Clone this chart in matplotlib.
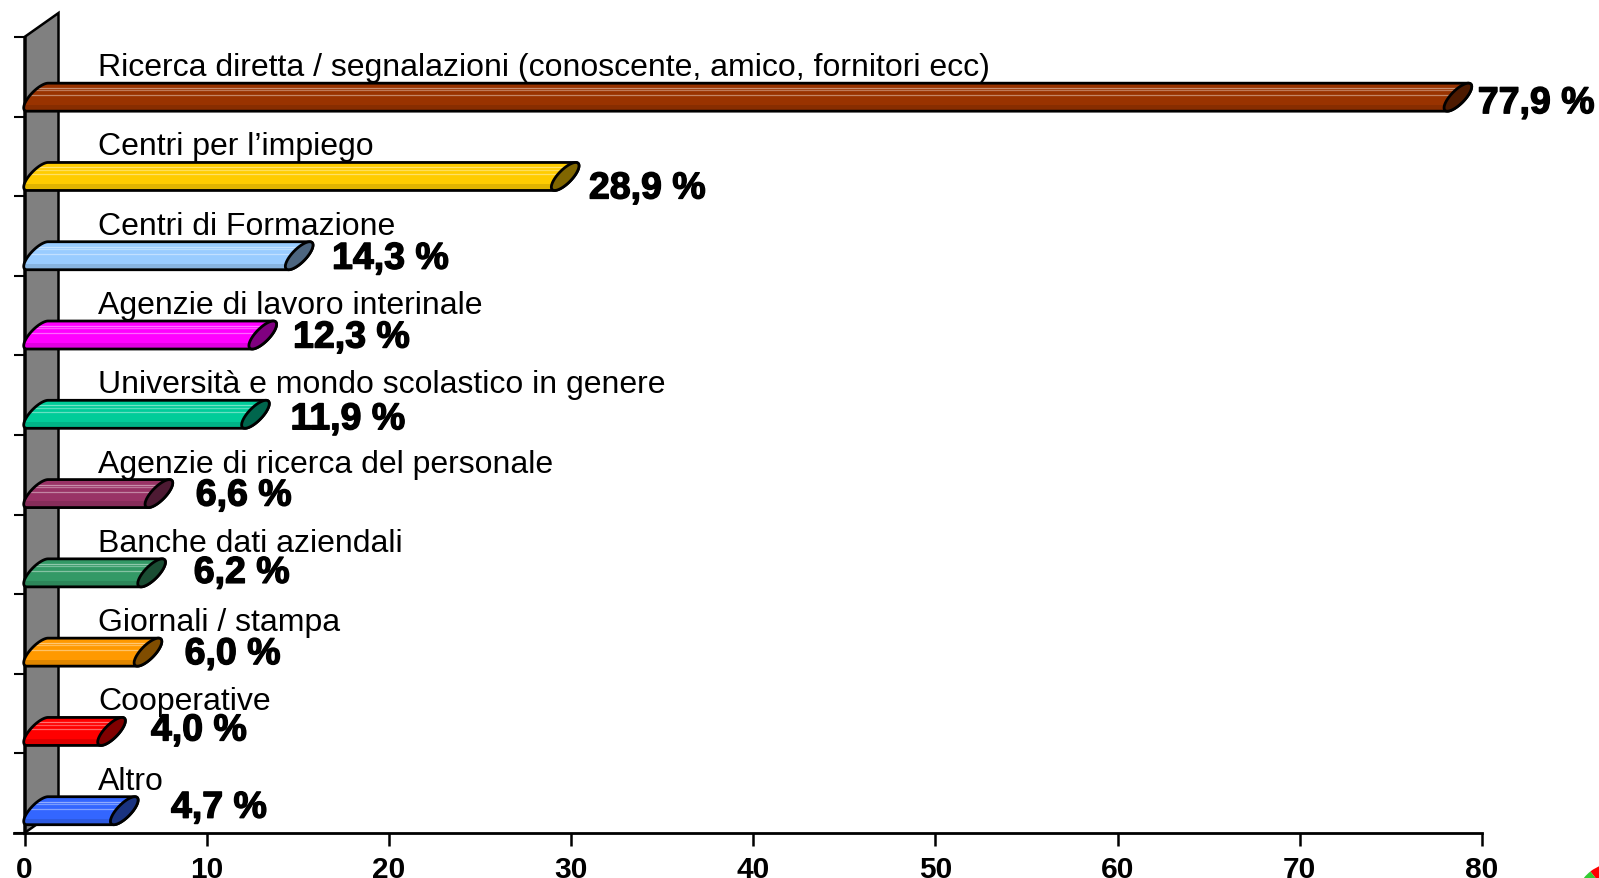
import matplotlib.pyplot as plt
import matplotlib.patheffects as pe
import numpy as np
from matplotlib.path import Path
from matplotlib.patches import PathPatch, Polygon, Rectangle, Wedge
from matplotlib.colors import to_rgb
from matplotlib.transforms import IdentityTransform

plt.rcParams['font.family'] = ['Liberation Sans', 'DejaVu Sans']

# Canali di ricerca del personale (% di risposte), dall'alto verso il basso
categories = [
    "Ricerca diretta / segnalazioni (conoscente, amico, fornitori ecc)",
    "Centri per l’impiego",
    "Centri di Formazione",
    "Agenzie di lavoro interinale",
    "Università e mondo scolastico in genere",
    "Agenzie di ricerca del personale",
    "Banche dati aziendali",
    "Giornali / stampa",
    "Cooperative",
    "Altro",
]
values = [77.9, 28.9, 14.3, 12.3, 11.9, 6.6, 6.2, 6.0, 4.0, 4.7]
colors = ["#993300", "#FFCC00", "#99CCFF", "#FF00FF", "#00CC99",
          "#993366", "#339966", "#FF9900", "#FF0000", "#3366FF"]
xticks = [0, 10, 20, 30, 40, 50, 60, 70, 80]

# small nudges for the % labels (x in data units, y in pixels, + = up)
label_dx = [1.87, 2.08, 2.58, 2.44, 2.7, 2.8, 3.09, 2.79, 2.94, 3.34]
label_dy = [-2, -8, 1, 1.5, -1, 2, 4, 2, 5, 7]


def shade(c, f):
    # f < 0 darkens, f > 0 lightens
    r = np.array(to_rgb(c))
    return tuple(r * (1 + f)) if f < 0 else tuple(r + (1 - r) * f)


W, H = 1599, 879
x0_px, x1_px, ytop_px, ybot_px = 24.5, 1482, 38, 834
fig = plt.figure(figsize=(W / 100, H / 100), dpi=100)
ax = fig.add_axes([x0_px / W, (H - ybot_px) / H,
                   (x1_px - x0_px) / W, (ybot_px - ytop_px) / H])
ax.set_xlim(0, 80)
ax.set_ylim(-0.5, 9.5)

sx = (x1_px - x0_px) / 80      # pixels per x unit
sy = (ybot_px - ytop_px) / 10  # pixels per category

# cylinder geometry
d = 21 / sx     # oblique depth
w = 9 / sx      # half width of end ellipse
h = 28 / sy     # bar thickness


def ell(xc, yc, t):
    return xc + w * np.cos(t) + d / 2 * np.sin(t), yc + h / 2 * np.sin(t)


# grey back wall
depth = 34 / sx
rise = 24 / sy
wall = Polygon([(0, -0.5), (depth, -0.5 + rise), (depth, 9.5 + rise), (0, 9.5)],
               closed=True, facecolor="#808080", edgecolor="black", lw=1.8,
               clip_on=False, zorder=1)
ax.add_patch(wall)

n = len(values)
for k, (cat, v, col) in enumerate(zip(categories, values, colors)):
    yc = (n - 1 - k) * 0.996 - 0.22
    xc0 = 0.14 + d / 2
    xc1 = v + 0.2 + d / 2

    t1 = np.linspace(np.pi / 2, 3 * np.pi / 2, 40)
    t2 = np.linspace(-np.pi / 2, np.pi / 2, 40)
    ax_, ay_ = ell(xc0, yc, t1)
    bx_, by_ = ell(xc1, yc, t2)
    verts = np.column_stack([np.r_[ax_, bx_], np.r_[ay_, by_]])
    body = PathPatch(Path(np.vstack([verts, verts[:1]]), closed=True),
                     facecolor=col, edgecolor="none", zorder=3, clip_on=False)
    ax.add_patch(body)

    # darker band underneath, lighter streaks on top
    band = Rectangle((-1, yc - h / 2), v + 4, 0.22 * h, facecolor=shade(col, -0.12),
                     edgecolor="none", zorder=3.1)
    ax.add_patch(band)
    band.set_clip_path(body)
    for f, a in [(0.18, 0.45), (0.26, 0.35), (0.43, 0.4)]:
        ln, = ax.plot([-1, v + 3], [yc + h / 2 - f * h] * 2, color=shade(col, a),
                      lw=0.9, zorder=3.2)
        ln.set_clip_path(body)

    outline = PathPatch(Path(np.vstack([verts, verts[:1]]), closed=True),
                        facecolor="none", edgecolor="black", lw=2, zorder=3.5,
                        clip_on=False)
    ax.add_patch(outline)

    tc = np.linspace(0, 2 * np.pi, 80)
    cx, cy = ell(xc1, yc, tc)
    ax.fill(cx, cy, facecolor=shade(col, -0.5), edgecolor="black", lw=2, zorder=4)

    ax.text(98 / sx - x0_px / sx, yc + h / 2 + 8 / sy, cat, fontsize=23,
            va="baseline", ha="left", zorder=5)
    ax.annotate(f"{v:.1f} %".replace(".", ","), xy=(v + label_dx[k], yc),
                xytext=(0, label_dy[k] * 0.72), textcoords="offset points",
                fontsize=27, fontweight="bold", va="center_baseline", ha="left",
                zorder=6, path_effects=[pe.withStroke(linewidth=1, foreground="black")])

# axes
for s in ["top", "right"]:
    ax.spines[s].set_visible(False)
ax.spines["left"].set_linewidth(1.8)
ax.spines["bottom"].set_linewidth(2)
ax.plot([-11 / sx, 0], [-0.5, -0.5], color="black", lw=2, clip_on=False)
ax.set_xticks(xticks)
ax.set_xticklabels([str(t) for t in xticks], fontsize=21.5, fontweight="bold")
ax.set_yticks(np.arange(-0.5, 10, 1))
ax.set_yticklabels([])
ax.tick_params(axis="x", direction="out", length=9, width=1.8, pad=7)
ax.tick_params(axis="y", direction="out", length=8, width=1.5)

# corner logo, mostly outside the page
fig.add_artist(Wedge((1615, -25), 40, 90, 128, facecolor="#FF0000",
                     transform=IdentityTransform()))
fig.add_artist(Wedge((1615, -25), 40, 128, 180, facecolor="#33CC33",
                     transform=IdentityTransform()))

fig.savefig("out.png", dpi=100)
